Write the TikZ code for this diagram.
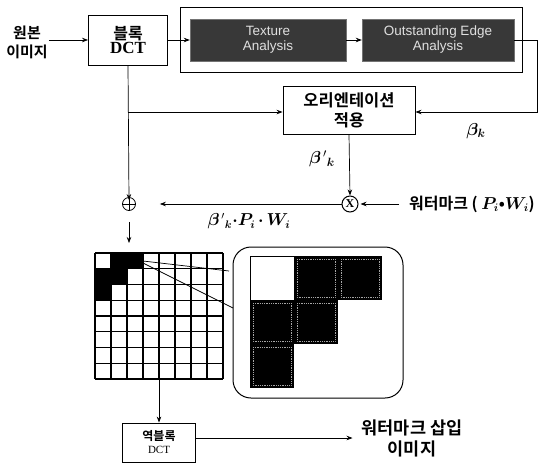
\documentclass[tikz,border=0pt]{standalone}
\usepackage{fontspec}
\usepackage{amsmath,bm}
\newfontfamily\kr{Noto Sans CJK KR}[BoldFont={Noto Sans CJK KR Bold}]
\newfontfamily\arl{Liberation Sans}
\newfontfamily\tms{Liberation Serif}
\usetikzlibrary{arrows.meta}
\begin{document}
\begin{tikzpicture}[x=1pt,y=-1pt,
  box/.style={draw, line width=0.9pt, align=center, inner sep=0pt},
  darkbox/.style={fill=black!78, draw=black!55, align=center, text=white!88!black,
    font=\arl\fontsize{13.5}{15}\selectfont, inner sep=0pt},
  arr/.style={-{Stealth[length=6pt,width=4.5pt]}, line width=0.7pt},
  kt/.style={font=\kr\bfseries\fontsize{15}{19}\selectfont, align=center, inner sep=1pt},
  mt/.style={font=\fontsize{15}{18}\selectfont, inner sep=1pt},
  gl/.style={line width=1.4pt},
  darkcell/.style={fill=black},
  cellrim/.style={draw=white!65!black, densely dotted, line width=0.8pt}]
\useasboundingbox (0,0) rectangle (551,469);

% top row
\node[kt] (src) at (27,42) {원본\\이미지};
\node[box, minimum width=79pt, minimum height=50pt] (dct) at (128,40)
  {{\kr\bfseries\fontsize{16}{19}\selectfont 블록}\\[1pt]{\tms\bfseries\fontsize{17}{18}\selectfont DCT}};
\node[draw, line width=0.9pt, minimum width=342pt, minimum height=65pt, inner sep=0pt] (outer) at (351,39.5) {};
\node[darkbox, minimum width=156pt, minimum height=42pt] (tex) at (268,40) {Texture\\Analysis};
\node[darkbox, minimum width=152pt, minimum height=42pt] (edge) at (438,40) {Outstanding Edge\\Analysis};

% orientation box
\node[box, minimum width=132pt, minimum height=48pt, font=\kr\bfseries\fontsize{16.5}{20}\selectfont] (orient) at (349,110) {오리엔테이션\\적용};

% operators
\node[circle, draw, line width=0.8pt, minimum size=13pt, inner sep=0pt] (plus) at (129,204) {};
\draw[line width=0.8pt] (plus.north) -- (plus.south) (plus.west) -- (plus.east);
\node[circle, draw, line width=1pt, minimum size=16pt, inner sep=0pt,
  font=\tms\bfseries\fontsize{12}{12}\selectfont] (times) at (350,204) {X};
\node[kt, anchor=west, font=\kr\bfseries\fontsize{16}{19}\selectfont] (wm) at (408,204) {워터마크 ( $\boldsymbol{P_i}$\textbullet$\boldsymbol{W_i}$)};

% labels
\node[mt, font=\fontsize{18}{20}\selectfont] (bk) at (476,131) {$\boldsymbol{\beta_k}$};
\node[mt, font=\fontsize{17}{20}\selectfont] (bpk) at (322,159) {$\boldsymbol{\beta}^{\,\prime}{}_{\boldsymbol{k}}$};
\node[mt, font=\fontsize{16}{18}\selectfont] (prod) at (249,221)
  {$\boldsymbol{\beta}^{\,\prime}{}_{\boldsymbol{k}}{\bm{\cdot}}\boldsymbol{P_i}\,{\bm{\cdot}}\,\boldsymbol{W_i}$};

% connectors (top part)
\draw[arr] (src.east |- dct) -- (dct.west);
\draw[arr] (dct.east) -- (tex.west);
\draw[arr] (tex.east) -- (edge.west);
\coordinate (rc) at (537,112);
\draw[arr] (edge.east) -| (rc) -- (orient.east |- rc);
\coordinate (br) at (128,112);
\draw[arr] (br) -- (orient.west |- br);
\draw[arr] (dct.south) -- ([yshift=-3pt]plus.north);
\draw[arr] (orient.south) -- (times.north);
\draw[arr, shorten >=24pt] (times.west) -- (plus.east);
\draw[arr, shorten <=9pt, shorten >=2pt] (wm.west) -- (times.east);

% big 8x8 grid
\coordinate (gtl) at (95,253);
\coordinate (gin) at (129,243);
\draw[arr, shorten <=11pt] (plus.south) -- (gin);
\fill[darkcell] (111,253) rectangle (143,268.75);
\fill[darkcell] (95,268.75) rectangle (127,284.5);
\fill[darkcell] (95,284.5) rectangle (111,300.25);
\foreach \i in {0,...,8} {
  \draw[gl] (95+16*\i,253) -- (95+16*\i,379);
  \draw[gl] (95,253+15.75*\i) -- (223,253+15.75*\i);
}

% zoom callout
\draw[line width=0.7pt] (143,261) -- (229,271);
\draw[line width=0.7pt] (143,263) -- (233,308);
\draw[line width=1pt, rounded corners=18pt] (233,247) rectangle (403,398);
\draw[line width=0.7pt] (250,256) rectangle (294,300);
\foreach \cx/\cy in {294/256, 338/256, 250/300, 294/300, 250/344} {
  \fill[darkcell] (\cx,\cy) rectangle (\cx+44,\cy+44);
  \draw[cellrim] (\cx+3,\cy+3) rectangle (\cx+41,\cy+41);
}

% bottom
\coordinate (gb) at (159,379);
\node[box, minimum width=73pt, minimum height=39pt] (idct) at (159,442.5)
  {{\kr\bfseries\fontsize{12}{14}\selectfont 역블록}\\[1pt]{\tms\fontsize{11}{12}\selectfont DCT}};
\draw[arr] (gb) -- (idct.north);
\node[kt, font=\kr\bfseries\fontsize{17.5}{21}\selectfont] (out) at (412,438) {워터마크 삽입\\이미지};
\draw[arr, shorten >=8pt] (idct.east |- out.west) -- (out.west);
\end{tikzpicture}
\end{document}
